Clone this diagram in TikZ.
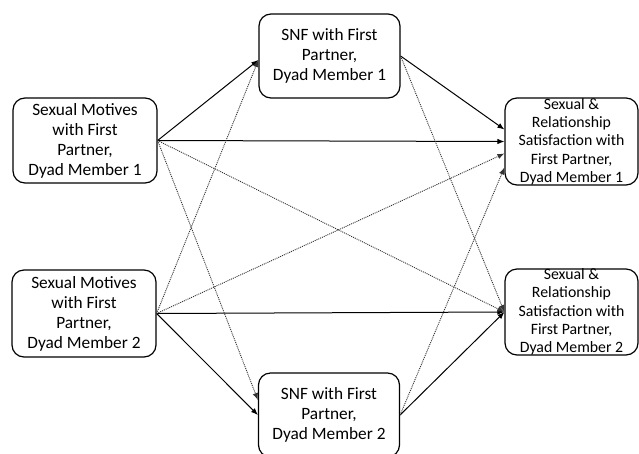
\documentclass[tikz,border=0pt]{standalone}
\usepackage{fontspec}
\setmainfont{Carlito}
\usetikzlibrary{arrows.meta, positioning, calc}

\begin{document}
\begin{tikzpicture}[
    x=1pt, y=-1pt,
    box/.style={draw, rounded corners=12pt, line width=1.2pt, inner sep=0pt, align=center, font=\fontsize{17.3}{20}\selectfont},
    satlabel/.style={align=center, inner sep=0pt, font=\fontsize{15.8}{18.3}\selectfont},
    effect/.style={-{Latex[length=7pt,width=5.5pt]}, line width=1pt},
    crosseffect/.style={effect, densely dotted, line width=0.9pt, black!80}
]
    \useasboundingbox (0,0) rectangle (639,453);

    % predictors
    \node[box, minimum width=144pt, minimum height=85pt] (mot1) at (85,140.5) {Sexual Motives\\with First\\Partner,\\Dyad Member 1};
    \node[box, minimum width=144pt, minimum height=87pt] (mot2) at (84,313.5) {Sexual Motives\\with First\\Partner,\\Dyad Member 2};

    % mediators
    \node[box, minimum width=141pt, minimum height=84pt] (snf1) at (329.5,56) {SNF with First\\Partner,\\Dyad Member 1};
    \node[box, minimum width=141pt, minimum height=84pt] (snf2) at (329,415) {SNF with First\\Partner,\\Dyad Member 2};

    % outcomes
    \node[box, minimum width=133pt, minimum height=87pt] (sat1) at (571.5,141.5) {};
    \node[box, minimum width=133pt, minimum height=86pt] (sat2) at (571.5,312) {};
    \node[satlabel] at (sat1.center) {Sexual \&\\Relationship\\Satisfaction with\\First Partner,\\Dyad Member 1};
    \node[satlabel] at (sat2.center) {Sexual \&\\Relationship\\Satisfaction with\\First Partner,\\Dyad Member 2};

    % actor paths
    \draw[effect] (mot1.east) -- ([yshift=-4pt]snf1.west);
    \draw[effect] (mot1.east) -- (sat1.west);
    \draw[effect] (mot2.east) -- (snf2.west);
    \draw[effect] (mot2.east) -- (sat2.west);
    \draw[effect] (snf1.east) -- ([yshift=12pt]sat1.west);
    \draw[effect] (snf2.east) -- (sat2.west);

    % partner paths
    \draw[crosseffect] (mot1.east) -- ([yshift=15pt]snf2.west);
    \draw[crosseffect] (mot1.east) -- (sat2.west);
    \draw[crosseffect] (mot2.east) -- ([yshift=-4pt]snf1.west);
    \draw[crosseffect] (mot2.east) -- ([yshift=-12pt]sat1.west);
    \draw[crosseffect] (snf1.east) -- (sat2.west);
    \draw[crosseffect] (snf2.east) -- ([yshift=-26pt]sat1.west);
\end{tikzpicture}
\end{document}
